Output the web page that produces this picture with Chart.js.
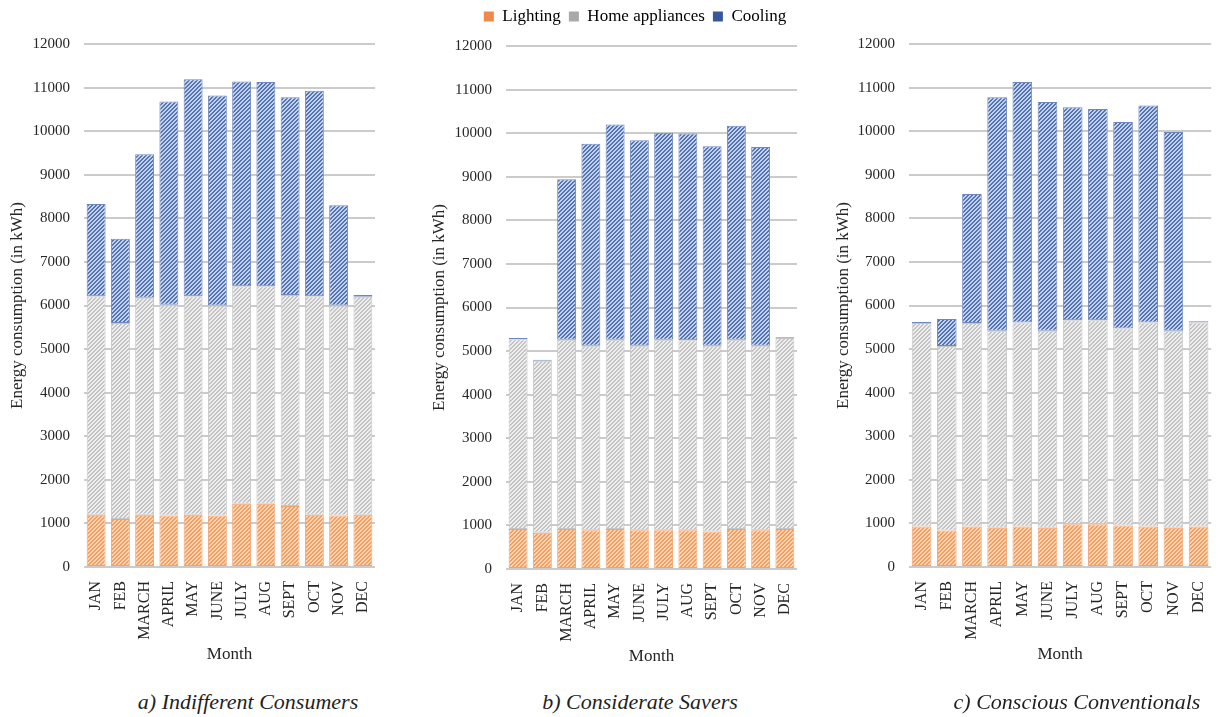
<!DOCTYPE html>
<html>
<head>
<meta charset="utf-8">
<script src="https://cdn.jsdelivr.net/npm/chart.js@4.4.1/dist/chart.umd.min.js"></script>
<style>
  html, body { margin: 0; padding: 0; background: #ffffff; }
  body { width: 1224px; height: 717px; position: relative; overflow: hidden; }
  canvas { position: absolute; top: 0; }
  .caption {
    position: absolute; top: 689px; line-height: 26px;
    font-family: 'Liberation Serif', 'Times New Roman', serif;
    font-style: italic; font-size: 22px; color: #1f1f1f;
    white-space: nowrap; transform: translateX(-50%);
  }
</style>
</head>
<body>
<canvas id="c1" width="390" height="680" style="left:0px"></canvas>
<canvas id="c2" width="426" height="680" style="left:422px"></canvas>
<canvas id="c3" width="398" height="680" style="left:826px"></canvas>
<div class="caption" style="left:248px">a) Indifferent Consumers</div>
<div class="caption" style="left:640px">b) Considerate Savers</div>
<div class="caption" style="left:1077px">c) Conscious Conventionals</div>

<script>
// Monthly energy use (kWh) by end use for three household groups
const months = ['JAN', 'FEB', 'MARCH', 'APRIL', 'MAY', 'JUNE', 'JULY', 'AUG', 'SEPT', 'OCT', 'NOV', 'DEC'];
const seriesNames = ['Lighting', 'Home appliances', 'Cooling'];

const indifferentLighting   = [1200, 1100, 1200, 1180, 1200, 1180, 1450, 1450, 1400, 1200, 1180, 1200];
const indifferentAppliances = [5010, 4500, 4980, 4840, 5010, 4820, 4990, 4990, 4840, 5010, 4820, 5000];
const indifferentCooling    = [2120, 1930, 3290, 4660, 4980, 4820, 4700, 4690, 4540, 4720, 2300, 40];

const saversLighting   = [920, 830, 920, 890, 920, 890, 890, 890, 860, 920, 890, 920];
const saversAppliances = [4350, 3950, 4340, 4230, 4340, 4230, 4370, 4360, 4260, 4340, 4230, 4380];
const saversCooling    = [30, 20, 3680, 4640, 4940, 4720, 4750, 4740, 4580, 4910, 4560, 20];

const conventionalLighting   = [930, 840, 930, 900, 930, 900, 980, 980, 950, 930, 900, 930];
const conventionalAppliances = [4670, 4230, 4670, 4520, 4680, 4520, 4680, 4680, 4520, 4680, 4520, 4680];
const conventionalCooling    = [20, 620, 2960, 5360, 5520, 5250, 4890, 4850, 4740, 4980, 4560, 30];

const yMin = 0, yMax = 12000, yStep = 1000;

// Styling
const SERIF = "'Liberation Serif', 'Times New Roman', serif";
const TEXT = '#262626';
const hatchColors = [
  { light: '#FCD3B3', dark: '#F39F62', border: '#F2A46F' },   // Lighting
  { light: '#EEEEEE', dark: '#C4C4C4', border: '#C6C6C6' },   // Home appliances
  { light: '#C3D2EC', dark: '#5474B4', border: '#6E88BE' }    // Cooling
];
const legendColors = ['#F0894A', '#A9A9A9', '#36579A'];

Chart.defaults.font.family = SERIF;
Chart.defaults.color = TEXT;

// Upward diagonal hatch tile
function hatch(ctx, light, dark) {
  const tile = document.createElement('canvas');
  tile.width = 4; tile.height = 4;
  const g = tile.getContext('2d');
  g.fillStyle = light; g.fillRect(0, 0, 4, 4);
  g.fillStyle = dark;
  for (let y = 0; y < 4; y++)
    for (let x = 0; x < 4; x++)
      if ((x + y) % 4 < 2) g.fillRect(x, y, 1, 1);
  return ctx.createPattern(tile, 'repeat');
}

// Extra room below the legend, and let it span the whole canvas width
const legendGap = {
  id: 'legendGap',
  beforeInit(chart) {
    const fit = chart.legend.fit;
    chart.legend.fit = function () {
      fit.call(this);
      this.height += 11;
    };
  },
  beforeDraw(chart) {
    const lg = chart.legend;
    lg.left = 0;
    lg.right = chart.width;
    lg.width = chart.width;
  }
};

function makeChart(id, series, layout) {
  const ctx = document.getElementById(id).getContext('2d');
  const datasets = series.map((values, i) => ({
    label: seriesNames[i],
    data: values,
    backgroundColor: hatch(ctx, hatchColors[i].light, hatchColors[i].dark),
    borderColor: hatchColors[i].border,
    borderWidth: 1,
    borderSkipped: false
  }));
  return new Chart(ctx, {
    type: 'bar',
    data: { labels: months, datasets },
    options: {
      responsive: false,
      animation: false,
      layout: { padding: { top: layout.top, right: layout.right, bottom: layout.bottom, left: 0 } },
      datasets: { bar: { barPercentage: 0.78, categoryPercentage: 1.0 } },
      plugins: {
        tooltip: { enabled: false },
        legend: {
          display: !!layout.legend,
          position: 'top',
          labels: {
            boxWidth: 10, boxHeight: 10, padding: 8,
            font: { family: SERIF, size: 17 }, color: TEXT,
            generateLabels(chart) {
              return chart.data.datasets.map((d, i) => ({
                text: d.label, fillStyle: legendColors[i], strokeStyle: legendColors[i],
                lineWidth: 0, hidden: false, datasetIndex: i
              }));
            }
          }
        }
      },
      scales: {
        x: {
          stacked: true,
          grid: { display: false },
          border: { display: false },
          ticks: {
            autoSkip: false, minRotation: 90, maxRotation: 90, padding: 6,
            font: { family: SERIF, size: 16 }, color: TEXT
          },
          title: { display: true, text: 'Month', font: { family: SERIF, size: 17 }, color: TEXT, padding: 0 },
          afterFit(scale) { scale.height = 98; }
        },
        y: {
          stacked: true,
          min: yMin, max: yMax,
          ticks: {
            stepSize: yStep, padding: 14, font: { family: SERIF, size: 15 }, color: TEXT,
            callback: (v) => String(v)
          },
          grid: { color: '#CBCBCB', lineWidth: 2, drawTicks: false },
          border: { display: false },
          title: {
            display: true, text: 'Energy consumption (in kWh)',
            font: { family: SERIF, size: 17 }, color: TEXT, padding: { top: 7, bottom: 0 }
          },
          afterFit(scale) { scale.width = layout.yWidth; }
        }
      }
    },
    plugins: layout.legend ? [legendGap] : []
  });
}

makeChart('c1', [indifferentLighting, indifferentAppliances, indifferentCooling],
  { top: 44, right: 15, bottom: 15, yWidth: 84 });
makeChart('c2', [saversLighting, saversAppliances, saversCooling],
  { top: 0, right: 51, bottom: 13, yWidth: 84, legend: true });
makeChart('c3', [conventionalLighting, conventionalAppliances, conventionalCooling],
  { top: 44, right: 5, bottom: 15, yWidth: 83 });
</script>
</body>
</html>
